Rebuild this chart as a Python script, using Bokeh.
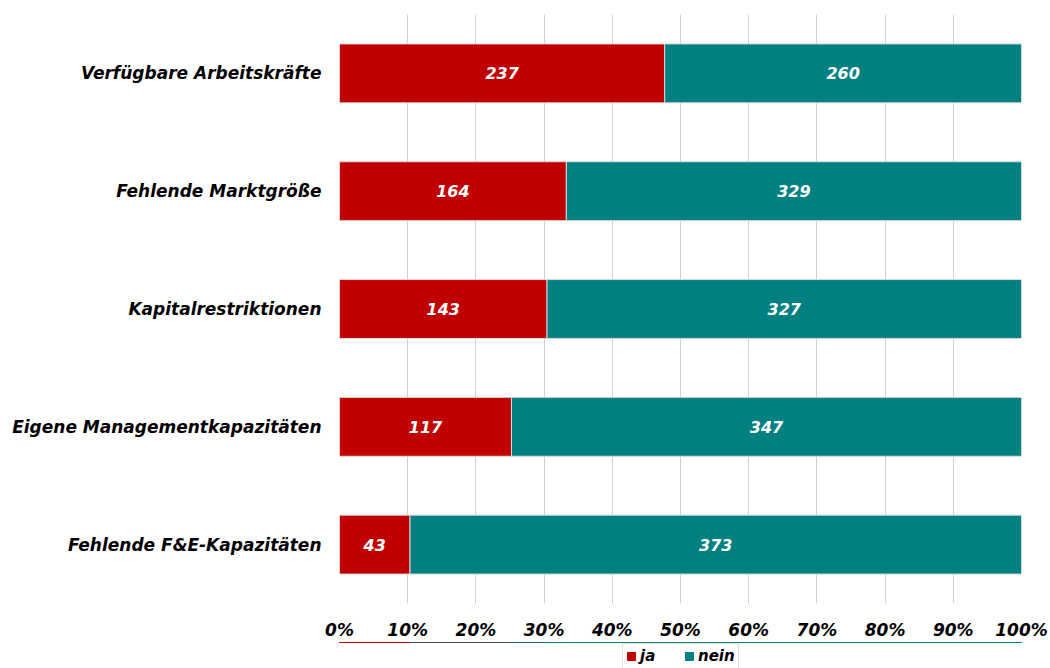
from bokeh.plotting import figure
from bokeh.layouts import column
from bokeh.models import ColumnDataSource, FactorRange, Range1d, Legend, LegendItem, NumeralTickFormatter, FixedTicker, LabelSet
from bokeh.core.properties import value
from bokeh.embed import file_html
from bokeh.resources import INLINE

categories = ["Verfügbare Arbeitskräfte", "Fehlende Marktgröße", "Kapitalrestriktionen",
              "Eigene Managementkapazitäten", "Fehlende F&E-Kapazitäten"]
ja = [237, 164, 143, 117, 43]
nein = [260, 329, 327, 347, 373]
x_ticks = [0, 0.1, 0.2, 0.3, 0.4, 0.5, 0.6, 0.7, 0.8, 0.9, 1.0]

tot = [a + b for a, b in zip(ja, nein)]
ja_p = [a / t for a, t in zip(ja, tot)]
src = ColumnDataSource(dict(
    cat=categories, ja=ja, nein=nein, ja_p=ja_p, one=[1.0] * len(ja),
    ja_mid=[p / 2 for p in ja_p], nein_mid=[(p + 1) / 2 for p in ja_p],
    ja_s=[str(v) for v in ja], nein_s=[str(v) for v in nein],
))

RED = "#c00000"
TEAL = "#008080"
FONT = "DejaVu Sans"
p = figure(frame_width=682, frame_height=589, output_backend="svg", toolbar_location=None,
           y_range=FactorRange(*reversed(categories), range_padding=0),
           x_range=Range1d(0, 1), min_border_left=339, min_border_right=29,
           min_border_top=14, min_border_bottom=0)
p.outline_line_color = None
p.background_fill_color = "white"

p.hbar(y="cat", left=0, right="ja_p", height=0.5, source=src,
       fill_color=RED, line_color="#d9d9d9", line_width=1)
p.hbar(y="cat", left="ja_p", right="one", height=0.5, source=src,
       fill_color=TEAL, line_color="#d9d9d9", line_width=1)

for xcol, tcol in (("ja_mid", "ja_s"), ("nein_mid", "nein_s")):
    p.add_layout(LabelSet(x=xcol, y="cat", text=tcol, source=src, text_color="white",
                          text_font=value(FONT), text_font_style="bold italic", text_font_size="16px",
                          text_align="center", text_baseline="middle"))

p.xaxis.ticker = FixedTicker(ticks=x_ticks)
p.xaxis.formatter = NumeralTickFormatter(format="0%")
p.xaxis.axis_line_color = None
p.xaxis.major_tick_line_color = None
p.xaxis.minor_tick_line_color = None
p.xaxis.major_tick_out = 0
p.xaxis.major_tick_in = 0
p.xaxis.minor_tick_out = 0
p.xaxis.major_label_text_font = FONT
p.xaxis.major_label_text_font_style = "bold italic"
p.xaxis.major_label_text_font_size = "17px"
p.xaxis.major_label_text_color = "black"
p.xaxis.major_label_standoff = 16

p.yaxis.axis_line_color = None
p.yaxis.major_tick_line_color = None
p.yaxis.minor_tick_line_color = None
p.yaxis.major_tick_out = 0
p.yaxis.minor_tick_out = 0
p.yaxis.major_label_text_font = FONT
p.yaxis.major_label_text_font_style = "bold italic"
p.yaxis.major_label_text_font_size = "17px"
p.yaxis.major_label_text_color = "black"
p.yaxis.major_label_standoff = 18

p.ygrid.grid_line_color = None
p.xgrid.grid_line_color = "#d0d0d0"
p.xgrid.grid_line_width = 1

# separate strip below the chart holding the legend; its bars use the counts as
# y values, which lie outside the strip's 0..1 range, so only the legend shows
leg = figure(width=1050, height=29, output_backend="svg", toolbar_location=None,
             x_range=Range1d(0, 1), y_range=Range1d(0, 1),
             x_axis_type=None, y_axis_type=None,
             min_border_left=0, min_border_right=0, min_border_top=0, min_border_bottom=0)
leg.outline_line_color = None
lr1 = leg.hbar(y="ja", left=0, right="ja_p", height=0.5, source=src, fill_color=RED, line_color=RED)
lr2 = leg.hbar(y="nein", left="ja_p", right="one", height=0.5, source=src, fill_color=TEAL, line_color=TEAL)
legend = Legend(items=[LegendItem(label="ja", renderers=[lr1], index=0),
                       LegendItem(label="nein", renderers=[lr2], index=0)],
                orientation="horizontal", location=(283, 2),
                label_text_font=FONT, label_text_font_style="bold italic", label_text_font_size="15px",
                label_text_color="black",
                label_height=15, glyph_width=10, glyph_height=10, spacing=24, padding=3, margin=0,
                border_line_color="#bfbfbf", border_line_width=1, label_standoff=4)
leg.add_layout(legend, "center")

layout = column(p, leg, spacing=0)
open("out.html", "w").write(file_html(layout, INLINE))
